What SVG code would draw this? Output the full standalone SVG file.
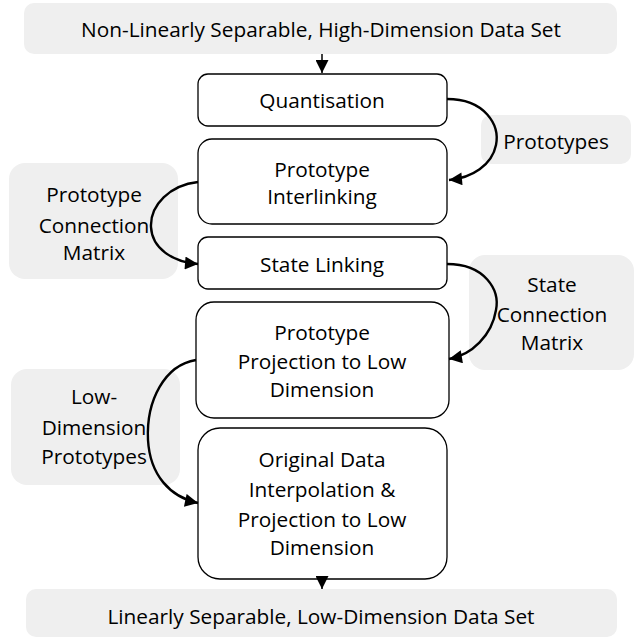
<svg xmlns="http://www.w3.org/2000/svg" width="634" height="638" viewBox="0 0 634 638">
  <style>
    .data { fill: #efefef; stroke: none; }
    .step { fill: #ffffff; stroke: #000000; stroke-width: 1.3; }
    .lbl { font-family: "Open Sans", Lato, "Liberation Sans", sans-serif; font-size: 20.8px; fill: #000000; text-anchor: middle; }
    .flow { fill: none; stroke: #000000; stroke-width: 2.4; marker-end: url(#head); }
    .drop { fill: none; stroke: #000000; stroke-width: 1.5; marker-end: url(#head); }
  </style>
  <defs>
    <marker id="head" viewBox="0 0 10 10" refX="10" refY="5" markerWidth="15" markerHeight="13" markerUnits="userSpaceOnUse" orient="auto">
      <path d="M0,0 L10,5 L0,10 Z" fill="#000000"/>
    </marker>
  </defs>

  <!-- input / output data sets -->
  <g id="input-data">
    <rect class="data" x="24" y="3" width="593" height="51" rx="10"/>
    <text class="lbl" x="321" y="37">Non-Linearly Separable, High-Dimension Data Set</text>
  </g>
  <g id="output-data">
    <rect class="data" x="26" y="589" width="591" height="48" rx="10"/>
    <text class="lbl" x="321" y="624">Linearly Separable, Low-Dimension Data Set</text>
  </g>

  <!-- processing steps -->
  <g id="quantisation">
    <rect class="step" x="198" y="74" width="249" height="52" rx="10"/>
    <text class="lbl" x="322" y="108">Quantisation</text>
  </g>
  <g id="prototype-interlinking">
    <rect class="step" x="198" y="139" width="249" height="85" rx="14"/>
    <text class="lbl" x="322" y="177">Prototype</text>
    <text class="lbl" x="322" y="204">Interlinking</text>
  </g>
  <g id="state-linking">
    <rect class="step" x="198" y="237" width="249" height="52" rx="10"/>
    <text class="lbl" x="322" y="272">State Linking</text>
  </g>
  <g id="prototype-projection">
    <rect class="step" x="196" y="302" width="253" height="116" rx="18"/>
    <text class="lbl" x="322" y="340">Prototype</text>
    <text class="lbl" x="322" y="369">Projection to Low</text>
    <text class="lbl" x="322" y="397">Dimension</text>
  </g>
  <g id="original-data-projection">
    <rect class="step" x="198" y="428" width="249" height="151" rx="22"/>
    <text class="lbl" x="322" y="467">Original Data</text>
    <text class="lbl" x="322" y="497">Interpolation &amp;</text>
    <text class="lbl" x="322" y="527">Projection to Low</text>
    <text class="lbl" x="322" y="555">Dimension</text>
  </g>

  <!-- intermediate products -->
  <g id="prototypes">
    <rect class="data" x="481" y="115" width="150" height="49" rx="10"/>
    <text class="lbl" x="556" y="149">Prototypes</text>
  </g>
  <g id="prototype-connection-matrix">
    <rect class="data" x="9" y="163" width="169" height="116" rx="16"/>
    <text class="lbl" x="94" y="202">Prototype</text>
    <text class="lbl" x="94" y="233">Connection</text>
    <text class="lbl" x="94" y="260">Matrix</text>
  </g>
  <g id="state-connection-matrix">
    <rect class="data" x="469" y="255" width="165" height="115" rx="16"/>
    <text class="lbl" x="552" y="292">State</text>
    <text class="lbl" x="552" y="322">Connection</text>
    <text class="lbl" x="552" y="350">Matrix</text>
  </g>
  <g id="low-dimension-prototypes">
    <rect class="data" x="11" y="369" width="169" height="116" rx="16"/>
    <text class="lbl" x="94" y="404">Low-</text>
    <text class="lbl" x="94" y="435">Dimension</text>
    <text class="lbl" x="94" y="464">Prototypes</text>
  </g>

  <!-- connectors -->
  <g id="connectors">
    <path class="drop" d="M322,54 L322,73"/>
    <path class="drop" d="M322,579 L322,589"/>
    <path class="flow" d="M447,99 C485,99 500,125 496,145 C492,165 472,178 449,180"/>
    <path class="flow" d="M198,182 C170,185 150,205 151,227 C152,248 172,262 198,264"/>
    <path class="flow" d="M447,264 C485,264 500,290 496,310 C492,335 472,355 449,359"/>
    <path class="flow" d="M196,360 C165,365 146,400 148,440 C150,475 170,497 198,503"/>
  </g>
</svg>
